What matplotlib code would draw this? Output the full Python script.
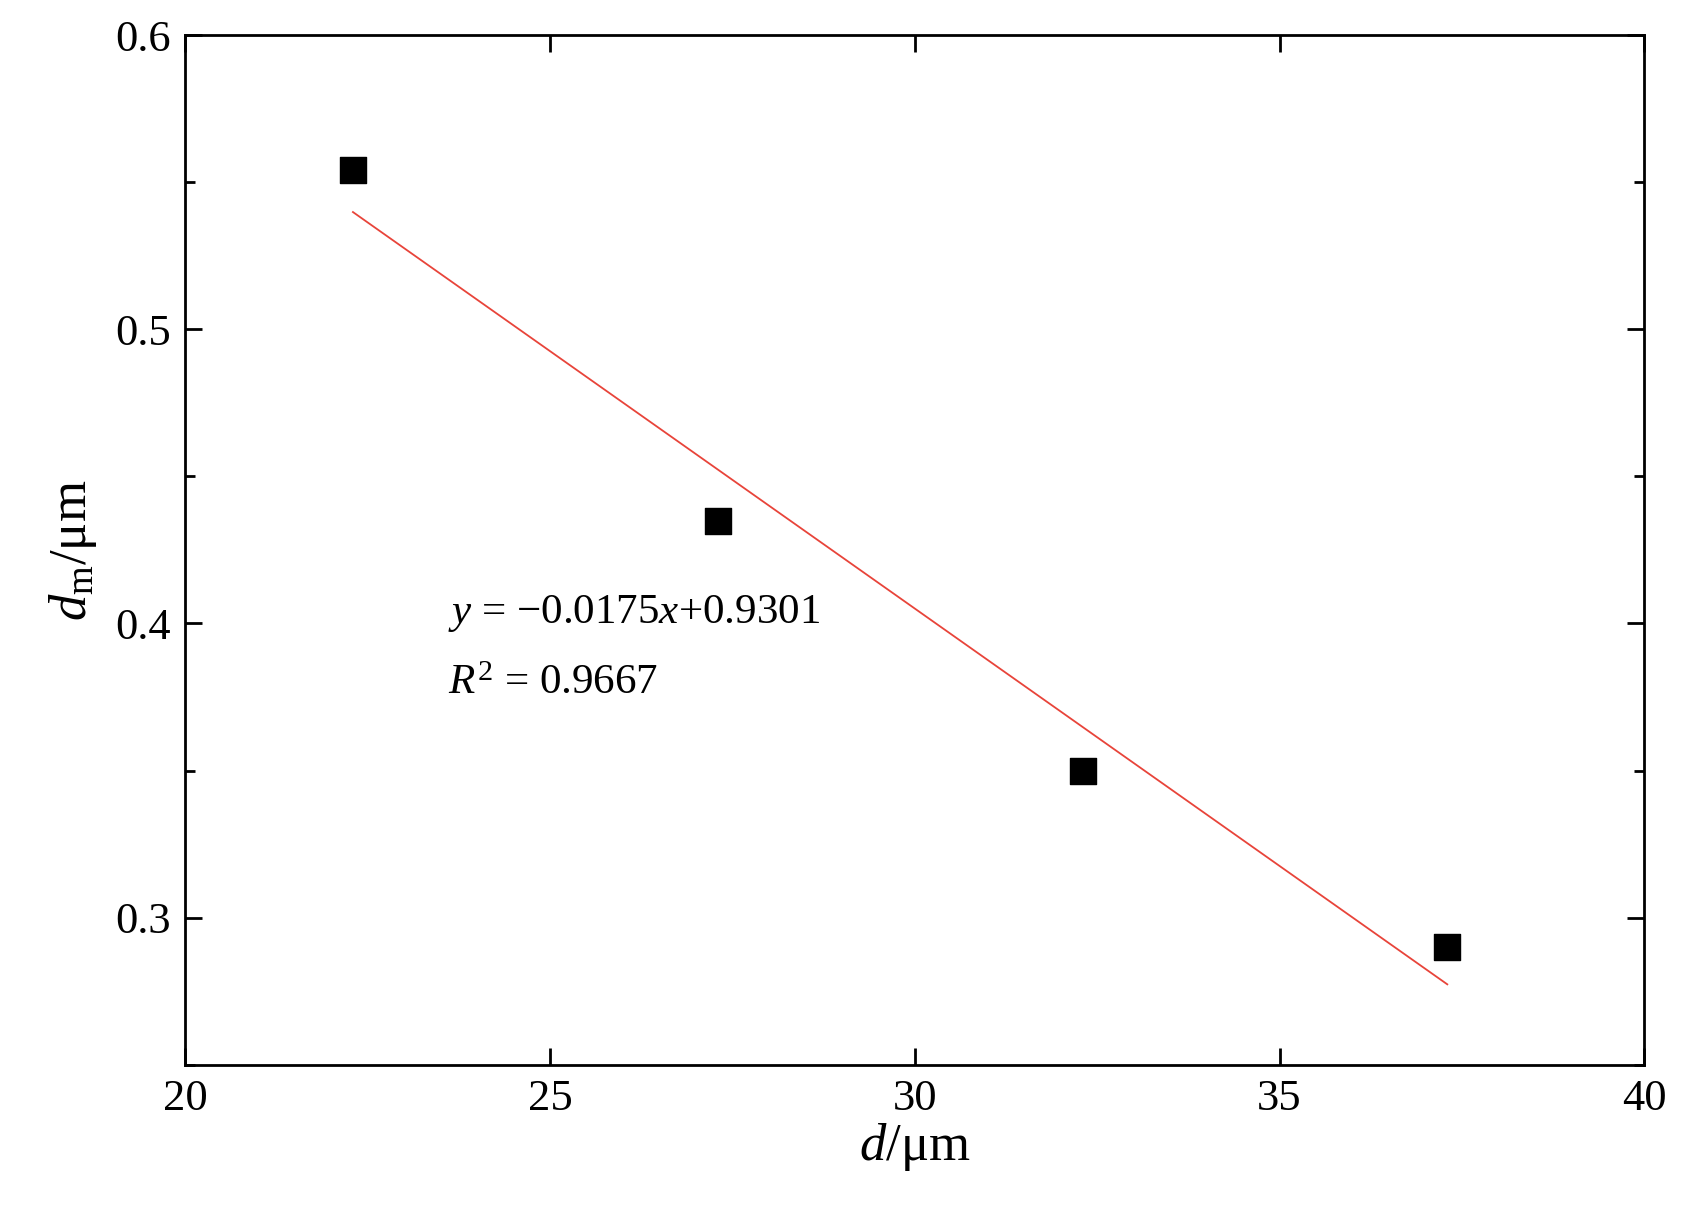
import numpy as np
import matplotlib.pyplot as plt
from matplotlib.ticker import MultipleLocator

plt.rcParams['font.family'] = ['Liberation Serif', 'DejaVu Serif']
plt.rcParams['mathtext.fontset'] = 'custom'
plt.rcParams['mathtext.rm'] = 'Liberation Serif'
plt.rcParams['mathtext.it'] = 'Liberation Serif:italic'

d = [22.3, 27.3, 32.3, 37.3]
dm = [0.554, 0.435, 0.350, 0.290]
slope, intercept = -0.0175, 0.9301

fig = plt.figure(figsize=(16.83, 12.1), dpi=100)
ax = fig.add_axes([0.110, 0.120, 0.867, 0.851])

ax.scatter(d, dm, marker='s', s=340, color='black', zorder=3)
fx = np.array([d[0], d[-1]])
ax.plot(fx, slope * fx + intercept, color='#e8443a', lw=1.3)

ax.set_xlim(20, 40)
ax.set_ylim(0.25, 0.6)
ax.xaxis.set_major_locator(MultipleLocator(5))
ax.yaxis.set_minor_locator(MultipleLocator(0.05))
ax.set_yticks([0.3, 0.4, 0.5, 0.6])
ax.set_yticklabels(['0.3', '0.4', '0.5', '0.6'])
ax.tick_params(which='both', direction='in', top=True, right=True, width=2)
ax.tick_params(which='major', length=12, labelsize=32, pad=10)
ax.tick_params(which='minor', length=7)
for s in ax.spines.values():
    s.set_linewidth(2)

ax.set_xlabel(r'$d$/μm', fontsize=38, labelpad=2)
ax.set_ylabel(r'$d_{\mathrm{m}}$/μm', fontsize=38, labelpad=12)

ax.text(23.6, 0.4, r'$y$ = −0.0175$x$+0.9301', fontsize=31)
ax.text(23.6, 0.376, r'$R^2$ = 0.9667', fontsize=31)

fig.savefig('out.png')
